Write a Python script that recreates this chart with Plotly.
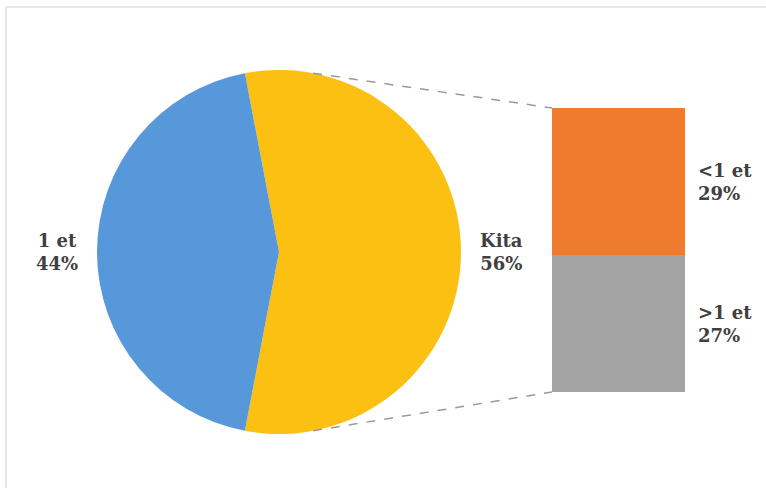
import math
import plotly.graph_objects as go

# Pie: share of respondents
pie_labels = ["Kita", "1 et"]
pie_values = [56, 44]
pie_colors = ["#fcc012", "#5798da"]

# Breakdown of the "Kita" slice, shown as a stacked bar (bottom to top)
bar_labels = [">1 et", "<1 et"]
bar_values = [27, 29]
bar_colors = ["#a4a4a4", "#f07b2c"]

W, H = 766, 488
SERIF = "DejaVu Serif"
TEXT_FONT = dict(family=SERIF, size=18, color="#404040")


def px_x(x):
    return x / W


def px_y(y):
    return 1 - y / H


# Pie geometry (pixels)
cx, cy, r = 279, 252, 182
pie_total = sum(pie_values)
first_angle = 360 * pie_values[0] / pie_total  # clockwise span of the first slice
rotation = -(first_angle - 180) / 2           # centre the first slice on the right side

# Bar geometry (pixels)
bar_left, bar_right, bar_top, bar_bottom = 552, 685, 108, 392
bar_total = sum(bar_values)

fig = go.Figure()

fig.add_trace(go.Pie(
    labels=pie_labels,
    values=pie_values,
    sort=False,
    direction="clockwise",
    rotation=rotation,
    marker=dict(colors=pie_colors, line=dict(width=0)),
    textinfo="none",
    hoverinfo="skip",
    showlegend=False,
    domain=dict(x=[px_x(cx - r), px_x(cx + r)], y=[px_y(cy + r), px_y(cy - r)]),
))

for lab, val, col in zip(bar_labels, bar_values, bar_colors):
    fig.add_trace(go.Bar(
        x=[0], y=[val], name=lab, width=1,
        marker=dict(color=col, line=dict(width=0)),
        hoverinfo="skip", showlegend=False,
    ))

# Labels for the pie slices, placed outside each slice at its mid-angle
start = rotation
for lab, val in zip(pie_labels, pie_values):
    span = 360 * val / pie_total
    mid = math.radians(start + span / 2)
    start += span
    dist = r + 40
    lx = cx + dist * math.sin(mid)
    ly = cy - dist * math.cos(mid)
    fig.add_annotation(
        x=px_x(lx), y=px_y(ly), xref="paper", yref="paper",
        text=f"<b>{lab}<br>{val}%</b>", showarrow=False,
        font=TEXT_FONT, align="center", xanchor="center", yanchor="middle",
    )

# Labels for the bar segments, to the right of the bar
base = 0
for lab, val in zip(bar_labels, bar_values):
    fig.add_annotation(
        x=0.5, y=base + val / 2, xref="x", yref="y",
        text=f"<b>{lab}<br>{val}%</b>", showarrow=False,
        font=TEXT_FONT, align="left", xanchor="left", yanchor="middle", xshift=11,
    )
    base += val

# Dashed connectors from the pie edge to the bar corners
tilt = math.radians(first_angle / 2 - 90)
top_pt = (cx + r * math.sin(tilt), cy - r * math.cos(tilt))
bot_pt = (cx + r * math.sin(tilt), cy + r * math.cos(tilt))
for (sx, sy), ey in [(top_pt, bar_top), (bot_pt, bar_bottom)]:
    fig.add_shape(
        type="line", xref="paper", yref="paper",
        x0=px_x(sx), y0=px_y(sy), x1=px_x(bar_left), y1=px_y(ey),
        line=dict(color="#9a9a9a", width=1.5, dash="dash"),
    )

# Frame edges (top and left)
frame = dict(color="#e0e0e0", width=1.5)
fig.add_shape(type="line", xref="paper", yref="paper",
              x0=px_x(6), y0=px_y(7), x1=1, y1=px_y(7), line=frame)
fig.add_shape(type="line", xref="paper", yref="paper",
              x0=px_x(6), y0=px_y(7), x1=px_x(6), y1=0, line=frame)

fig.update_layout(
    width=W, height=H,
    margin=dict(l=0, r=0, t=0, b=0),
    font=dict(family=SERIF),
    paper_bgcolor="white", plot_bgcolor="white",
    barmode="stack", bargap=0,
    xaxis=dict(domain=[px_x(bar_left), px_x(bar_right)], range=[-0.5, 0.5],
               visible=False, fixedrange=True),
    yaxis=dict(domain=[px_y(bar_bottom), px_y(bar_top)], range=[0, bar_total],
               visible=False, fixedrange=True),
)

fig.write_html("out.html")
